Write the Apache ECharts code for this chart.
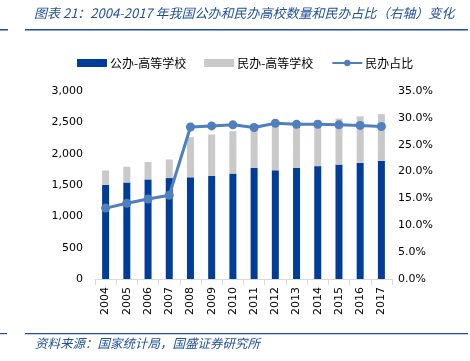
<!DOCTYPE html>
<html>
<head>
<meta charset="utf-8">
<script src="https://cdn.jsdelivr.net/npm/echarts@6/dist/echarts.min.js"></script>
<style>html,body{margin:0;padding:0;background:#fff}#c{width:470px;height:361px}</style>
</head>
<body>
<div id="c"></div>
<script>
const years = ['2004','2005','2006','2007','2008','2009','2010','2011','2012','2013','2014','2015','2016','2017'];
const publicHEI = [1503,1540,1589,1611,1623,1647,1682,1775,1735,1773,1801,1826,1854,1884];
const privateHEI = [228,252,278,297,640,658,676,695,707,718,728,734,742,747];
const privateShare = [13.2,14.1,14.9,15.6,28.3,28.5,28.7,28.2,29.0,28.8,28.8,28.7,28.6,28.4];
const leftTicks = [0,500,1000,1500,2000,2500,3000];
const rightTicks = [0,5,10,15,20,25,30,35];

const titleText = '图表 21：2004-2017 年我国公办和民办高校数量和民办占比（右轴）变化';
const sourceText = '资料来源：国家统计局，国盛证券研究所';

const chart = echarts.init(document.getElementById('c'), null, {renderer:'canvas'});
const blue = '#003d99', gray = '#c9c9c9', lineC = '#4f7fbf', navy = '#1f4e9c';
const font = 'DejaVu Sans';
chart.setOption({
  animation:false,
  textStyle:{fontFamily:font},
  graphic:[
    {type:'text', left:34, top:7, style:{text:titleText, fill:navy, font:'italic 13px "Noto Sans CJK SC"'}},
    {type:'rect', shape:{x:0,y:29,width:8,height:1.5}, style:{fill:navy}},
    {type:'rect', shape:{x:25,y:29,width:443,height:1.5}, style:{fill:navy}},
    {type:'rect', shape:{x:0,y:333,width:7,height:1.2}, style:{fill:navy}},
    {type:'rect', shape:{x:25,y:333,width:443,height:1.2}, style:{fill:navy}},
    {type:'text', left:35, top:337, style:{text:sourceText, fill:navy, font:'italic 12.5px "Noto Sans CJK SC"'}}
  ],
  legend:{
    top:52, left:72, itemGap:18, itemWidth:30, itemHeight:8,
    textStyle:{fontFamily:'Noto Sans CJK SC', fontSize:12, color:'#000', padding:[0,0,0,-2]},
    data:[
      {name:'公办-高等学校', icon:'rect'},
      {name:'民办-高等学校', icon:'rect'},
      {name:'民办占比'}
    ]
  },
  grid:{left:95, right:78, top:91, bottom:82},
  xAxis:{
    type:'category', data:years,
    axisLine:{lineStyle:{color:'#d9d9d9'}},
    axisTick:{show:true, length:6, lineStyle:{color:'#d9d9d9'}},
    axisLabel:{rotate:90, color:'#000', fontSize:11, fontFamily:font, margin:8}
  },
  yAxis:[
    {type:'value', min:0, max:3000, interval:500,
     axisLine:{show:false}, axisTick:{show:false}, splitLine:{show:false},
     axisLabel:{color:'#000', fontSize:11, fontFamily:font, margin:12,
       formatter:v=>v.toLocaleString('en-US')}},
    {type:'value', min:0, max:35, interval:5,
     axisLine:{show:false}, axisTick:{show:false}, splitLine:{show:false},
     axisLabel:{color:'#000', fontSize:11, fontFamily:font, margin:6,
       formatter:v=>v.toFixed(1)+'%'}}
  ],
  series:[
    {name:'公办-高等学校', type:'bar', stack:'a', data:publicHEI, barWidth:7, itemStyle:{color:blue}},
    {name:'民办-高等学校', type:'bar', stack:'a', data:privateHEI, barWidth:7, itemStyle:{color:gray}},
    {name:'民办占比', type:'line', yAxisIndex:1, data:privateShare,
     symbol:'circle', symbolSize:9, lineStyle:{color:lineC, width:3},
     itemStyle:{color:lineC}}
  ]
});
</script>
</body>
</html>
